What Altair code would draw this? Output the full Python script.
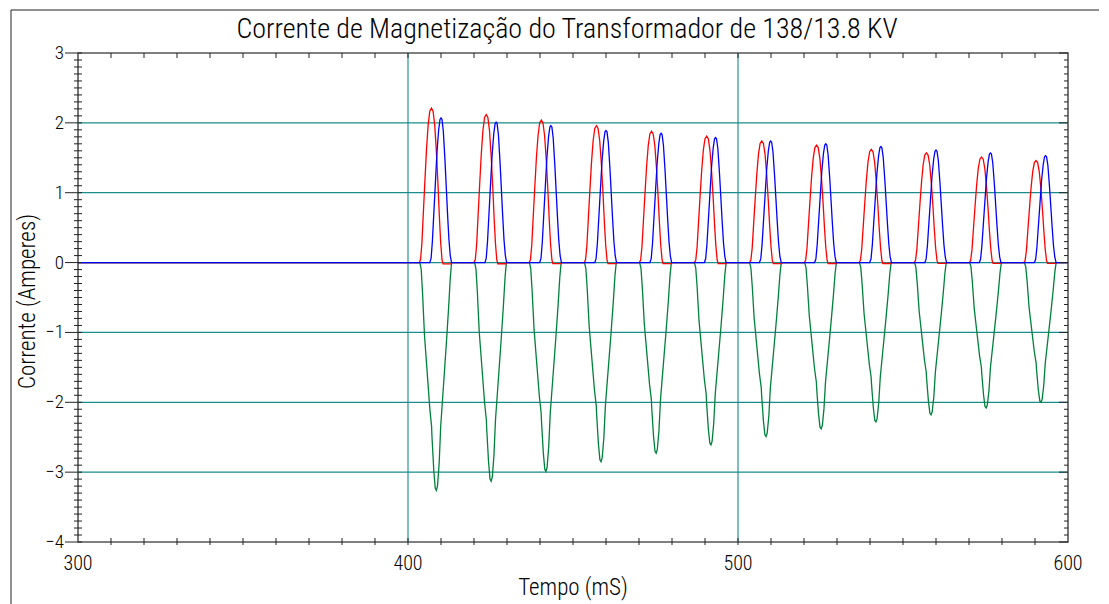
import altair as alt
import pandas as pd

FONT = "Liberation Sans Narrow, Roboto Condensed, DejaVu Sans Condensed, Roboto, sans-serif"
FW = 300

# ---- data ----
red_peak_t = [407.1, 423.7, 440.4, 457.1, 473.8, 490.5, 507.2, 523.8, 540.4, 557.1, 573.8, 590.3]
red_peak_v = [2.21, 2.12, 2.04, 1.96, 1.88, 1.81, 1.74, 1.68, 1.62, 1.57, 1.51, 1.46]
blue_peak_t = [410.0, 426.7, 443.3, 460.0, 476.7, 493.2, 509.9, 526.6, 543.3, 560.0, 576.5, 593.2]
blue_peak_v = [2.07, 2.01, 1.96, 1.89, 1.85, 1.79, 1.74, 1.70, 1.66, 1.61, 1.57, 1.53]
green_peak_t = [408.6, 425.2, 441.8, 458.5, 475.2, 491.8, 508.5, 525.2, 541.8, 558.5, 575.2, 591.8]
green_peak_v = [-3.26, -3.13, -2.99, -2.85, -2.73, -2.61, -2.49, -2.38, -2.28, -2.18, -2.08, -2.00]

# pulse outlines: time offset from the peak (ms), share of the peak
red_shape_dt = [-3.7, -3.3, -2.9, -2.5, -2.0, -1.5, -1.0, -0.5, 0.0, 0.5, 1.0, 1.5, 2.0, 2.4, 2.8, 3.2, 3.5, 6.0, 6.1]
red_shape_f = [0.0, 0.02, 0.12, 0.30, 0.52, 0.73, 0.89, 0.98, 1.0, 0.98, 0.89, 0.72, 0.50, 0.30, 0.13, 0.02, -0.008, -0.008, 0.0]
blue_shape_dt = [-3.4, -3.0, -2.6, -2.2, -1.7, -1.2, -0.7, -0.3, 0.0, 0.3, 0.7, 1.2, 1.6, 2.0, 2.4, 2.8, 3.2]
blue_shape_f = [0.0, 0.03, 0.15, 0.33, 0.55, 0.77, 0.92, 0.99, 1.0, 0.99, 0.91, 0.71, 0.52, 0.33, 0.16, 0.05, 0.0]
green_shape_dt = [-5.0, -4.6, -4.2, -3.6, -2.8, -2.0, -1.45, -1.35, -0.8, -0.35, 0.0, 0.35, 0.85, 1.25, 1.35, 1.45, 2.2, 3.0, 3.7, 4.2, 4.6]
green_shape_f = [0.0, 0.03, 0.13, 0.32, 0.48, 0.64, 0.72, 0.76, 0.91, 0.99, 1.0, 0.98, 0.88, 0.74, 0.71, 0.69, 0.53, 0.36, 0.20, 0.07, 0.0]

title_text = "Corrente de Magnetização do Transformador de 138/13.8 KV"
x_title = "Tempo (mS)"
y_title = "Corrente (Amperes)"
x_labels = [300, 400, 500, 600]
y_labels = [-4, -3, -2, -1, 0, 1, 2, 3]
grid_y = [2, 1, 0, -1, -2, -3]
grid_x = [400, 500]
x_minor = list(range(310, 600, 10))
y_minor = [round(-4 + 0.1 * i, 1) for i in range(1, 70) if i % 10 != 0]

TEAL = "#1a8c8c"
TICK = "#222222"
W, H = 990, 489


def build(peak_t, peak_v, dt, fr):
    rows = [{"t": 300.0, "v": 0.0}]
    for pt, pv in zip(peak_t, peak_v):
        for d, f in zip(dt, fr):
            rows.append({"t": round(pt + d, 3), "v": round(pv * f, 4)})
    rows.append({"t": 600.0, "v": 0.0})
    return pd.DataFrame(rows)


red_df = build(red_peak_t, red_peak_v, red_shape_dt, red_shape_f)
blue_df = build(blue_peak_t, blue_peak_v, blue_shape_dt, blue_shape_f)
green_df = build(green_peak_t, green_peak_v, green_shape_dt, green_shape_f)

xs = alt.Scale(domain=[300, 600], nice=False, zero=False)
ys = alt.Scale(domain=[-4, 3], nice=False, zero=False)


def X(f="t"):
    return alt.X(f + ":Q", scale=xs, axis=None)


def Y(f="v"):
    return alt.Y(f + ":Q", scale=ys, axis=None)


grid_h = alt.Chart(pd.DataFrame({"v": grid_y})).mark_rule(color=TEAL, strokeWidth=1.3).encode(y=Y())
grid_v = alt.Chart(pd.DataFrame({"t": grid_x})).mark_rule(color=TEAL, strokeWidth=1.6, opacity=0.7).encode(x=X())

green = alt.Chart(green_df).mark_line(color="#00803c", strokeWidth=1.3).encode(x=X(), y=Y())
red = alt.Chart(red_df).mark_line(color="#ff0000", strokeWidth=1.3).encode(x=X(), y=Y())
blue = alt.Chart(blue_df).mark_line(color="#0000ff", strokeWidth=1.3).encode(x=X(), y=Y())

xt = pd.DataFrame({"t": x_minor})
bottom_ticks = alt.Chart(xt).mark_rule(color=TICK, strokeWidth=1).encode(
    x=X(), y=alt.value(H - 4), y2=alt.value(H + 3))
top_ticks = alt.Chart(xt).mark_rule(color=TICK, strokeWidth=1).encode(
    x=X(), y=alt.value(0), y2=alt.value(5))
ym = pd.DataFrame({"v": y_minor})
yM = pd.DataFrame({"v": y_labels})
left_minor = alt.Chart(ym).mark_rule(color=TICK, strokeWidth=1).encode(
    y=Y(), x=alt.value(-4), x2=alt.value(4))
left_major = alt.Chart(yM).mark_rule(color=TICK, strokeWidth=1).encode(
    y=Y(), x=alt.value(-13), x2=alt.value(4))
right_minor = alt.Chart(ym).mark_rule(color=TICK, strokeWidth=1).encode(
    y=Y(), x=alt.value(W - 4), x2=alt.value(W))
right_major = alt.Chart(yM).mark_rule(color=TICK, strokeWidth=1).encode(
    y=Y(), x=alt.value(W - 9), x2=alt.value(W))

# tick labels
xl_df = pd.DataFrame({"t": x_labels, "lab": [str(v) for v in x_labels]})
x_text = alt.Chart(xl_df).mark_text(font=FONT, fontSize=20, fontWeight=FW, align="center",
                                    baseline="top", color="black").encode(
    x=X(), y=alt.value(H + 12), text="lab:N")
yl_df = pd.DataFrame({"v": y_labels, "lab": [str(v).replace("-", "\u2212") for v in y_labels]})
y_text = alt.Chart(yl_df).mark_text(font=FONT, fontSize=19, fontWeight=FW, align="right",
                                    baseline="middle", color="black").encode(
    y=Y(), x=alt.value(-14), text="lab:N")

one = pd.DataFrame({"a": [0]})
x_title_m = alt.Chart(one).mark_text(text=x_title, font=FONT, fontSize=23, fontWeight=FW, align="center",
                                     baseline="alphabetic", color="black").encode(
    x=alt.value(W / 2), y=alt.value(H + 53))
y_title_m = alt.Chart(one).mark_text(text=y_title, font=FONT, fontSize=23, fontWeight=FW, align="center",
                                     baseline="middle", angle=270, color="black").encode(
    x=alt.value(-50), y=alt.value(H / 2 + 4))
title_m = alt.Chart(one).mark_text(text=title_text, font=FONT, fontSize=28, fontWeight=FW, align="center",
                                   baseline="alphabetic", color="black").encode(
    x=alt.value(489), y=alt.value(-15))

frame_left = alt.Chart(one).mark_rule(color="#222", strokeWidth=1).encode(
    x=alt.value(-67), y=alt.value(-43), y2=alt.value(565))
frame_top = alt.Chart(one).mark_rule(color="#222", strokeWidth=1).encode(
    x=alt.value(-67), x2=alt.value(1035), y=alt.value(-43))

chart = alt.layer(
    grid_h, grid_v, green, red, blue,
    bottom_ticks, top_ticks, left_minor, left_major, right_minor, right_major,
    x_text, y_text, x_title_m, y_title_m, title_m,
    frame_left, frame_top,
).properties(
    width=W, height=H,
    autosize=alt.AutoSizeParams(type="none"),
    padding={"left": 70, "top": 45, "right": 31, "bottom": 62},
).configure_view(stroke="#555555", strokeWidth=1.6)

chart.save("out.html", embed_options={"renderer": "svg", "actions": False})
